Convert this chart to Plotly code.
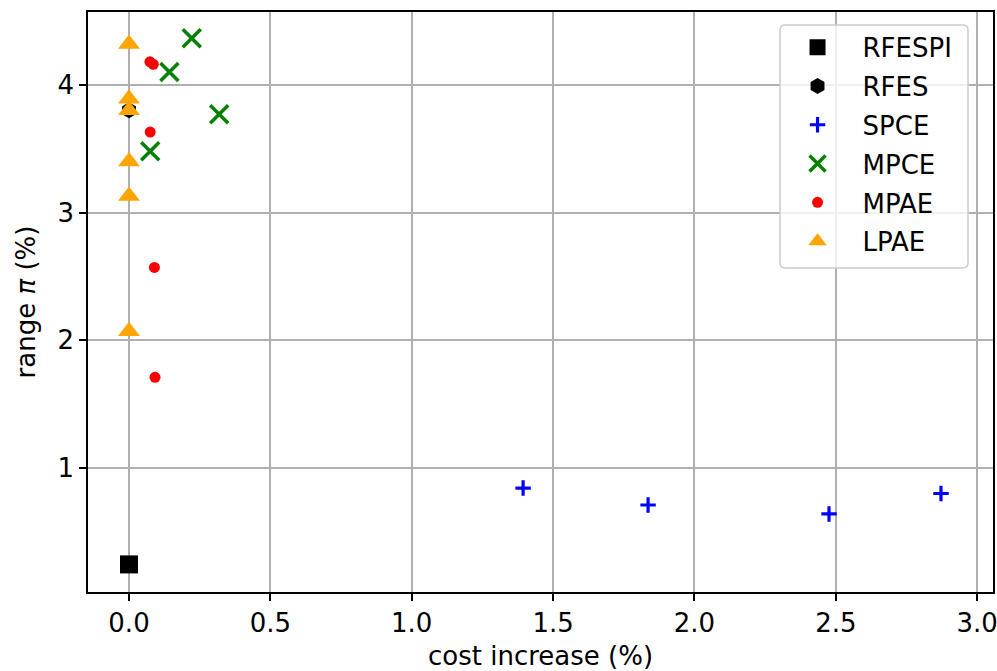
import plotly.graph_objects as go

# ---- data ----
rfespi_x = [0.0]
rfespi_y = [0.245]

rfes_x = [0.0]
rfes_y = [3.80]

spce_x = [1.394, 1.836, 2.476, 2.872]
spce_y = [0.843, 0.71, 0.64, 0.80]

mpce_x = [0.222, 0.143, 0.319, 0.075]
mpce_y = [4.365, 4.10, 3.77, 3.48]

mpae_x = [0.074, 0.086, 0.075, 0.090, 0.092]
mpae_y = [4.18, 4.16, 3.63, 2.57, 1.71]

lpae_x = [0.0, 0.0, 0.0, 0.0, 0.0, 0.0]
lpae_y = [4.32, 3.89, 3.80, 3.40, 3.13, 2.07]

x_ticks = [0.0, 0.5, 1.0, 1.5, 2.0, 2.5, 3.0]
y_ticks = [1, 2, 3, 4]

FONT = "DejaVu Sans"
FS = 26

fig = go.Figure()

def add(name, xs, ys, symbol, color, size, lw=0):
    fig.add_trace(go.Scatter(
        x=xs, y=ys, mode="markers", name=name, legendgroup=name,
        marker=dict(symbol=symbol, color=color, size=size,
                    line=dict(width=lw, color=color)),
    ))

add("RFESPI", rfespi_x, rfespi_y, "square", "black", 18)
add("RFES", rfes_x, rfes_y, "hexagon", "black", 16)
add("SPCE", spce_x, spce_y, "cross-thin", "#0000ff", 11, lw=3.2)
add("MPCE", mpce_x, mpce_y, "x-thin", "#008000", 18, lw=3.5)
add("MPAE", mpae_x, mpae_y, "circle", "#ff0000", 11)
add("LPAE", lpae_x, lpae_y, "triangle-up", "#ffa500", 19)

# legend frame (rounded box like matplotlib)
x0, x1, y0, y1 = 0.7646, 0.9724, 0.5586, 0.9776
rx, ry = 0.006, 0.009
path = (f"M {x0+rx},{y0} L {x1-rx},{y0} Q {x1},{y0} {x1},{y0+ry} "
        f"L {x1},{y1-ry} Q {x1},{y1} {x1-rx},{y1} L {x0+rx},{y1} "
        f"Q {x0},{y1} {x0},{y1-ry} L {x0},{y0+ry} Q {x0},{y0} {x0+rx},{y0} Z")
fig.add_shape(type="path", path=path, xref="paper", yref="paper",
              fillcolor="rgba(255,255,255,0.8)", line=dict(color="#cccccc", width=1.5),
              layer="above")

axis_common = dict(
    showgrid=True, gridcolor="#b0b0b0", gridwidth=1.5,
    showline=True, linecolor="black", linewidth=1.5, mirror=True,
    ticks="outside", ticklen=7, tickwidth=1.5, tickcolor="black",
    zeroline=False, automargin=False, ticklabeloverflow="allow",
    tickfont=dict(family=FONT, size=FS, color="black"),
)

fig.update_layout(
    width=997, height=671,
    margin=dict(l=88, r=4, t=12, b=79, autoexpand=False),
    paper_bgcolor="white", plot_bgcolor="white",
    font=dict(family=FONT, size=FS, color="black"),
    showlegend=True,
    legend=dict(
        x=0.7564, y=0.9797, xanchor="left", yanchor="top",
        bgcolor="rgba(0,0,0,0)", borderwidth=0,
        font=dict(family=FONT, size=FS, color="black"),
        itemwidth=80, tracegroupgap=2, traceorder="grouped",
    ),
    xaxis=dict(range=[-0.145, 3.056], tickvals=x_ticks,
               ticktext=[f"{v:.1f}" for v in x_ticks],
               title=dict(text="cost increase (%)", standoff=14,
                          font=dict(family=FONT, size=FS)),
               **axis_common),
    yaxis=dict(range=[0.029, 4.57], tickvals=y_ticks,
               ticktext=[str(v) for v in y_ticks],
               title=dict(text="range <i>π</i> (%)", standoff=14,
                          font=dict(family=FONT, size=FS)),
               **axis_common),
)

# remove the browser's default page margin so the figure fills the window
fig.write_html("out.html", config={"displayModeBar": False},
               post_script="document.body.style.margin='0';")
